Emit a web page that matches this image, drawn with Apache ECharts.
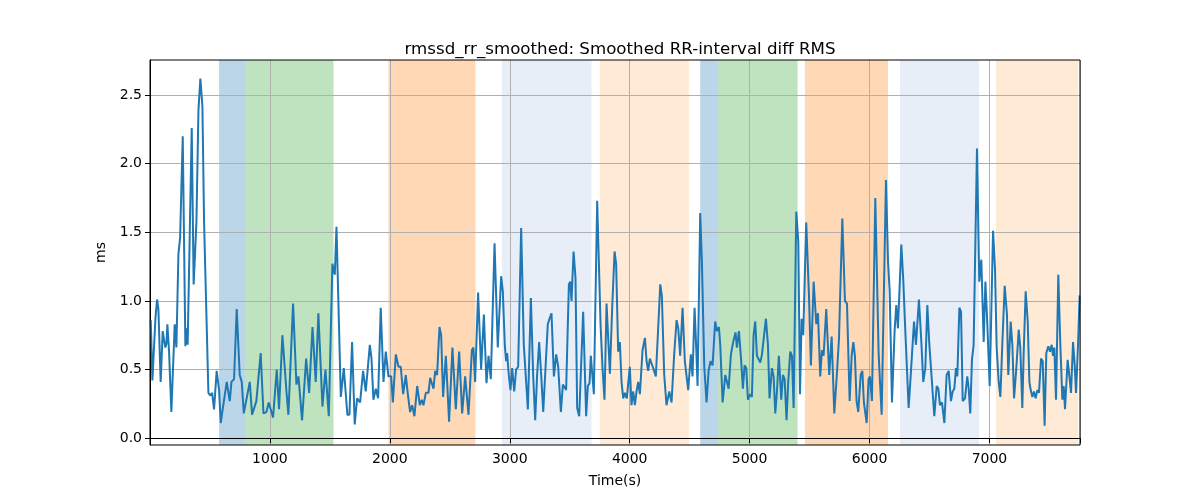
<!DOCTYPE html>
<html>
<head>
<meta charset="utf-8">
<script src="https://cdn.jsdelivr.net/npm/echarts@6/dist/echarts.min.js"></script>
<style>
  html, body { margin: 0; padding: 0; background: #fff; }
  #chart { width: 1200px; height: 500px; }
</style>
</head>
<body>
<div id="chart"></div>
<script>
// time (s) and smoothed rmssd (ms)
var times = [6, 20, 45, 59, 70, 89, 106, 120, 128, 137, 145, 159, 178, 206, 220, 237, 251, 273, 295, 306,
    314, 348, 364, 387, 404, 420, 437, 451, 487, 504, 518, 534, 556, 576, 590, 601, 615, 640, 665, 679,
    701, 723, 748, 765, 782, 798, 832, 851, 887, 923, 946, 971, 990, 1026, 1057, 1076, 1104, 1138, 1154, 1193,
    1221, 1238, 1268, 1302, 1327, 1355, 1382, 1404, 1438, 1463, 1491, 1521, 1541, 1555, 1591, 1616, 1646, 1663, 1685, 1707,
    1727, 1752, 1777, 1799, 1833, 1847, 1863, 1883, 1902, 1924, 1947, 1966, 1988, 2011, 2025, 2050, 2072, 2091, 2111, 2133,
    2150, 2169, 2186, 2205, 2228, 2250, 2266, 2280, 2300, 2322, 2336, 2350, 2364, 2378, 2394, 2414, 2428, 2444, 2467, 2494,
    2522, 2550, 2578, 2603, 2628, 2656, 2684, 2697, 2711, 2736, 2761, 2784, 2806, 2823, 2842, 2873, 2900, 2928, 2942, 2959,
    2970, 2978, 2992, 3006, 3020, 3037, 3053, 3070, 3095, 3117, 3131, 3151, 3176, 3195, 3212, 3228, 3245, 3262, 3279, 3298,
    3317, 3331, 3348, 3368, 3387, 3404, 3426, 3443, 3457, 3470, 3493, 3504, 3515, 3532, 3548, 3562, 3579, 3595, 3612, 3637,
    3651, 3665, 3676, 3690, 3701, 3729, 3757, 3774, 3790, 3807, 3821, 3835, 3854, 3874, 3887, 3904, 3918, 3932, 3946, 3960,
    3976, 4001, 4015, 4029, 4043, 4057, 4071, 4085, 4107, 4127, 4141, 4154, 4168, 4182, 4196, 4218, 4238, 4255, 4268, 4288,
    4307, 4330, 4349, 4371, 4391, 4405, 4421, 4441, 4460, 4474, 4488, 4510, 4524, 4541, 4552, 4566, 4588, 4602, 4622, 4641,
    4658, 4674, 4691, 4713, 4727, 4744, 4755, 4775, 4797, 4811, 4825, 4844, 4863, 4883, 4894, 4911, 4930, 4944, 4958, 4972,
    4986, 5005, 5019, 5033, 5047, 5061, 5075, 5089, 5103, 5116, 5136, 5153, 5166, 5186, 5200, 5214, 5228, 5244, 5264, 5278,
    5292, 5308, 5322, 5339, 5353, 5367, 5389, 5406, 5420, 5434, 5447, 5472, 5495, 5511, 5534, 5556, 5570, 5589, 5603, 5617,
    5639, 5664, 5684, 5706, 5725, 5745, 5756, 5773, 5795, 5812, 5834, 5851, 5865, 5878, 5892, 5906, 5926, 5940, 5953, 5976,
    5992, 6003, 6020, 6048, 6076, 6101, 6137, 6154, 6168, 6187, 6209, 6223, 6237, 6248, 6265, 6282, 6295, 6309, 6326, 6340,
    6354, 6371, 6387, 6412, 6432, 6448, 6465, 6482, 6498, 6518, 6540, 6560, 6574, 6587, 6604, 6624, 6643, 6660, 6679, 6693,
    6707, 6721, 6732, 6749, 6763, 6777, 6796, 6815, 6827, 6840, 6854, 6868, 6896, 6915, 6932, 6952, 6966, 6979, 7002, 7030,
    7046, 7060, 7077, 7091, 7107, 7127, 7146, 7157, 7177, 7191, 7205, 7224, 7244, 7257, 7274, 7285, 7302, 7319, 7333, 7344,
    7358, 7371, 7385, 7399, 7413, 7430, 7444, 7460, 7474, 7491, 7505, 7519, 7530, 7541, 7555, 7574, 7591, 7608, 7619, 7630,
    7652, 7669, 7680, 7697, 7711, 7722, 7739, 7752];
var rmssd = [0.86, 0.42, 0.87, 1.01, 0.94, 0.41, 0.78, 0.70, 0.66, 0.69, 0.83, 0.63, 0.19, 0.83, 0.66, 1.34, 1.46, 2.20, 0.67, 0.80,
    0.68, 2.26, 1.12, 1.57, 2.39, 2.62, 2.42, 1.57, 0.33, 0.31, 0.33, 0.21, 0.49, 0.35, 0.11, 0.18, 0.17, 0.41, 0.27, 0.41,
    0.43, 0.94, 0.46, 0.41, 0.18, 0.19, 0.41, 0.17, 0.27, 0.62, 0.18, 0.19, 0.26, 0.15, 0.50, 0.21, 0.75, 0.34, 0.17, 0.98,
    0.39, 0.45, 0.13, 0.58, 0.33, 0.81, 0.41, 0.91, 0.23, 0.50, 0.16, 1.27, 1.19, 1.54, 0.30, 0.51, 0.17, 0.17, 0.70, 0.10,
    0.29, 0.26, 0.49, 0.34, 0.68, 0.58, 0.28, 0.36, 0.29, 0.95, 0.41, 0.63, 0.45, 0.45, 0.26, 0.61, 0.52, 0.52, 0.32, 0.46,
    0.32, 0.19, 0.24, 0.16, 0.38, 0.24, 0.28, 0.24, 0.33, 0.33, 0.44, 0.44, 0.36, 0.49, 0.46, 0.81, 0.75, 0.30, 0.60, 0.12,
    0.66, 0.21, 0.63, 0.18, 0.45, 0.17, 0.64, 0.66, 0.41, 1.06, 0.50, 0.90, 0.40, 0.60, 0.43, 1.42, 0.66, 1.18, 1.07, 0.67,
    0.56, 0.62, 0.46, 0.35, 0.51, 0.34, 0.50, 0.52, 1.53, 0.68, 0.67, 0.21, 1.02, 0.46, 0.13, 0.46, 0.70, 0.46, 0.19, 0.51,
    0.83, 0.87, 0.91, 0.45, 0.61, 0.52, 0.19, 0.39, 0.39, 0.35, 1.12, 1.14, 1.00, 1.36, 1.17, 0.22, 0.16, 0.53, 0.92, 0.16,
    0.38, 0.40, 0.60, 0.61, 0.32, 1.73, 0.83, 0.50, 0.28, 0.98, 0.98, 0.47, 0.95, 1.36, 1.27, 0.63, 0.70, 0.41, 0.29, 0.33,
    0.29, 0.52, 0.24, 0.34, 0.24, 0.34, 0.41, 0.32, 0.64, 0.73, 0.56, 0.49, 0.58, 0.58, 0.51, 0.45, 0.81, 1.12, 1.04, 0.46,
    0.24, 0.34, 0.26, 0.61, 0.86, 0.80, 0.60, 0.95, 0.56, 0.56, 0.35, 0.61, 0.45, 0.95, 0.72, 0.38, 1.64, 1.29, 0.52, 0.26,
    0.49, 0.56, 0.53, 0.85, 0.78, 0.81, 0.68, 0.26, 0.46, 0.46, 0.36, 0.61, 0.70, 0.77, 0.66, 0.78, 0.56, 0.36, 0.53, 0.51,
    0.28, 0.32, 0.30, 0.75, 0.85, 0.60, 0.60, 0.55, 0.61, 0.60, 0.87, 0.68, 0.29, 0.51, 0.45, 0.18, 0.34, 0.60, 0.28, 0.46,
    0.43, 0.13, 0.41, 0.63, 0.60, 0.22, 1.65, 1.43, 0.32, 0.87, 0.75, 1.57, 1.04, 0.53, 1.14, 0.83, 0.91, 0.45, 0.64, 0.60,
    0.94, 0.46, 0.74, 0.18, 0.43, 0.72, 0.73, 1.60, 1.00, 0.98, 0.27, 0.60, 0.70, 0.60, 0.27, 0.19, 0.46, 0.49, 0.26, 0.11,
    0.43, 0.45, 0.27, 1.75, 0.61, 0.17, 1.88, 1.29, 1.07, 0.26, 0.78, 0.97, 0.80, 1.04, 1.41, 1.14, 0.85, 0.84, 0.22, 0.41,
    0.61, 0.85, 0.68, 1.01, 0.70, 0.41, 0.51, 0.97, 0.69, 0.44, 0.16, 0.38, 0.36, 0.24, 0.26, 0.11, 0.46, 0.49, 0.27, 0.34,
    0.36, 0.51, 0.45, 0.95, 0.92, 0.27, 0.29, 0.45, 0.36, 0.18, 0.57, 0.68, 2.11, 1.14, 1.30, 0.70, 1.14, 0.90, 0.38, 1.51,
    1.24, 0.66, 0.41, 0.30, 0.68, 1.11, 0.90, 0.46, 0.85, 0.68, 0.29, 0.51, 0.79, 0.66, 0.22, 0.61, 1.07, 0.85, 0.41, 0.35,
    0.30, 0.34, 0.29, 0.35, 0.33, 0.58, 0.56, 0.09, 0.62, 0.67, 0.63, 0.68, 0.60, 0.66, 0.28, 1.19, 0.68, 0.28, 0.38, 0.21,
    0.57, 0.43, 0.33, 0.70, 0.53, 0.33, 0.69, 1.04];

// shaded segments (start, end in s)
var bandStart = [576, 793, 1988, 2934, 3751, 4588, 4738, 5461, 6254, 7054];
var bandEnd = [793, 1530, 2714, 3682, 4494, 4738, 5400, 6154, 6913, 7740];
var bandColors = ['rgba(31,119,180,0.3)', 'rgba(44,160,44,0.3)', 'rgba(255,127,14,0.3)', 'rgba(174,199,232,0.3)',
    'rgba(255,187,120,0.3)', 'rgba(31,119,180,0.3)', 'rgba(44,160,44,0.3)', 'rgba(255,127,14,0.3)',
    'rgba(174,199,232,0.3)', 'rgba(255,187,120,0.3)'];

var yTicks = [0, 0.5, 1.0, 1.5, 2.0, 2.5];

var points = times.map(function(t, i) { return [t, rmssd[i]]; });
var areas = bandStart.map(function(s, i) {
    return [{ xAxis: s, itemStyle: { color: bandColors[i] } }, { xAxis: bandEnd[i] }];
});

var font = 'DejaVu Sans';
var chart = echarts.init(document.getElementById('chart'), null, { renderer: 'canvas' });
chart.setOption({
    backgroundColor: '#fff',
    animation: false,
    title: {
        text: 'rmssd_rr_smoothed: Smoothed RR-interval diff RMS',
        left: 615, top: 36, textAlign: 'center',
        textStyle: { fontFamily: font, fontSize: 16.67, fontWeight: 'normal', color: '#000' }
    },
    grid: { left: 150, right: 120, top: 60, bottom: 55, show: true, borderColor: '#000', borderWidth: 1, backgroundColor: 'transparent', z: 3 },
    xAxis: {
        type: 'value', min: 0, max: 7755, interval: 1000, z: 1.5,
        name: 'Time(s)', nameLocation: 'middle', nameGap: 29,
        nameTextStyle: { fontFamily: font, fontSize: 14, color: '#000' },
        axisLine: { show: true, lineStyle: { color: '#000' } },
        axisTick: { show: true, length: 5, lineStyle: { color: '#000' } },
        axisLabel: {
            fontFamily: font, fontSize: 14, color: '#000', margin: 7,
            formatter: function(v) { return (v > 0 && v % 1000 === 0) ? String(v) : ''; }
        },
        splitLine: { show: true, lineStyle: { color: '#b0b0b0', width: 1 } }
    },
    yAxis: {
        type: 'value', min: -0.05, max: 2.755, z: 1.5,
        name: 'ms', nameLocation: 'middle', nameGap: 36,
        nameTextStyle: { fontFamily: font, fontSize: 14, color: '#000' },
        axisLine: { show: true, lineStyle: { color: '#000' } },
        axisTick: { show: true, length: 5, lineStyle: { color: '#000' }, customValues: yTicks },
        axisLabel: {
            fontFamily: font, fontSize: 14, color: '#000', margin: 8, customValues: yTicks,
            formatter: function(v) { return v.toFixed(1); }
        },
        splitLine: { show: true, lineStyle: { color: '#b0b0b0', width: 1 } }
    },
    series: [{
        type: 'line',
        z: 1,
        data: [],
        markArea: { silent: true, data: areas }
    }, {
        type: 'line',
        z: 2,
        data: points,
        showSymbol: false,
        lineStyle: { color: '#1f77b4', width: 2 }
    }]
});
</script>
</body>
</html>
